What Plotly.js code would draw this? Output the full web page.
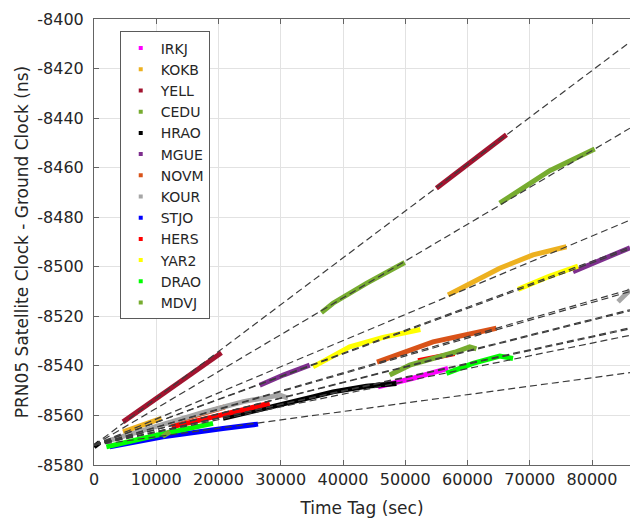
<!DOCTYPE html>
<html>
<head>
<meta charset="utf-8">
<script src="https://cdn.plot.ly/plotly-3.0.1.min.js"></script>
<style>html,body{margin:0;padding:0;background:#fff;}#chart{width:630px;height:518px;}</style>
</head>
<body>
<div id="chart"></div>
<script>
// Stations (legend order) and colours
const stations = ['IRKJ','KOKB','YELL','CEDU','HRAO','MGUE','NOVM','KOUR','STJO','HERS','YAR2','DRAO','MDVJ'];
const colors = ['#FF00FF','#EDB120','#A2142F','#77AC30','#000000','#7E2F8E','#D95319','#A6A6A6','#0000FF','#FF0000','#FFFF00','#00FF00','#77AC30'];

// Observed segments (time tag in s, clock difference in ns); null separates passes
const irkjX = [45620, 51250, 56870];
const irkjY = [-8548.4, -8545.0, -8541.0];
const kokbX = [4660, 7800, 10830, null, 56870, 65170, 70520, 75890];
const kokbY = [-8566.6, -8563.8, -8561.2, null, -8511.4, -8500.6, -8495.2, -8491.9];
const yellX = [4660, 12690, 20470, null, 55000, 59820, 66250];
const yellY = [-8562.6, -8548.7, -8534.7, null, -8468.3, -8458.9, -8446.7];
const ceduX = [36530, 38390, 43760, 49910, null, 65170, 73200, 80430];
const ceduY = [-8518.5, -8514.7, -8506.7, -8498.3, null, -8474.3, -8461.2, -8452.5];
const hraoX = [0, 900, null, 20720, 27690, 34650, 38390, 43760, 48580];
const hraoY = [-8572.7, -8570.9, null, -8561.2, -8557.2, -8552.8, -8550.5, -8548.2, -8547.1];
const mgueX = [26620, 30500, 34650, null, 76950, 81500, 86100];
const mgueY = [-8547.8, -8543.6, -8539.7, null, -8502.0, -8497.0, -8492.3];
const novmX = [12000, 16500, 21000, null, 45460, 54460, 64640];
const novmY = [-8563.2, -8559.9, -8556.6, null, -8538.5, -8530.3, -8524.8];
const kourX = [1730, 9220, 17250, 24000, 29830, 31170, null, 84180, 86100];
const kourY = [-8570.7, -8564.8, -8559.0, -8554.4, -8551.8, -8553.0, null, -8514.1, -8509.4];
const stjoX = [2520, 11080, 20720, 26350];
const stjoY = [-8572.7, -8568.6, -8565.3, -8563.5];
const hersX = [12500, 20720, 28220, null, 52050, 57930];
const hersY = [-8564.6, -8559.9, -8555.1, null, -8537.9, -8535.0];
const yar2X = [35180, 41080, 46430, 52430, null, 68110, 73000, 77750];
const yar2Y = [-8540.4, -8532.3, -8528.5, -8525.3, null, -8509.1, -8504.0, -8499.7];
const draoX = [1990, 10020, 19120, null, 56610, 60880, 65170, 67310];
const draoY = [-8572.7, -8568.0, -8563.2, null, -8543.0, -8539.0, -8536.0, -8537.0];
const mdvjX = [11000, 12200, null, 47500, 50710, 57940, 60350, 61430];
const mdvjY = [-8568.5, -8566.5, null, -8543.7, -8539.7, -8534.5, -8532.3, -8533.1];

const segX = [irkjX, kokbX, yellX, ceduX, hraoX, mgueX, novmX, kourX, stjoX, hersX, yar2X, draoX, mdvjX];
const segY = [irkjY, kokbY, yellY, ceduY, hraoY, mgueY, novmY, kourY, stjoY, hersY, yar2Y, draoY, mdvjY];

// Linear fit per station (ns per s, ns at t=0)
const fitSlope = [0.000545, 0.001055, 0.00189, 0.001486, 0.000515, 0.000928, 0.00073, 0.00072, 0.00034, 0.00063, 0.00092, 0.00055, 0.000635];
const fitIntercept = [-8572, -8572, -8572, -8572, -8572, -8572, -8572, -8572, -8572, -8572, -8572, -8572, -8572];

// Axes
const xRange = [0, 86100];
const yRange = [-8580, -8400];
const xTickVals = [0, 10000, 20000, 30000, 40000, 50000, 60000, 70000, 80000];
const yTickVals = [-8580, -8560, -8540, -8520, -8500, -8480, -8460, -8440, -8420, -8400];

const FONT = 'DejaVu Sans, sans-serif';
const TXT = 'rgb(38,38,38)';

const traces = [];
// data segments
stations.forEach((s, i) => {
  traces.push({x: segX[i], y: segY[i], type: 'scatter', mode: 'lines', name: s,
    line: {color: colors[i], width: 5}, showlegend: false, connectgaps: false, hoverinfo: 'skip'});
});
// fitted dashed lines
stations.forEach((s, i) => {
  traces.push({x: xRange.slice(), y: xRange.map(t => fitIntercept[i] + fitSlope[i] * t),
    type: 'scatter', mode: 'lines', showlegend: false, hoverinfo: 'skip',
    line: {color: 'rgb(60,60,60)', width: 1.2, dash: '7px,4px'}});
});
// legend entries (dot markers)
stations.forEach((s, i) => {
  traces.push({x: [null], y: [null], type: 'scatter', mode: 'markers', name: s,
    marker: {color: colors[i], size: 4, symbol: 'square'}, showlegend: true});
});

const layout = {
  width: 630, height: 518,
  margin: {l: 94, r: 0, t: 19, b: 53, autoexpand: false},
  paper_bgcolor: '#fff', plot_bgcolor: '#fff',
  font: {family: FONT, size: 16, color: TXT},
  showlegend: true,
  legend: {x: 0.048, y: 0.972, xanchor: 'left', yanchor: 'top',
    bordercolor: 'rgb(90,90,90)', borderwidth: 1, bgcolor: '#fff',
    font: {family: FONT, size: 14, color: TXT}, tracegroupgap: 0},
  xaxis: {range: xRange, tickvals: xTickVals, ticktext: xTickVals.map(v => String(v)),
    showgrid: true, gridcolor: 'rgb(226,226,226)', gridwidth: 1, zeroline: false,
    showline: true, linecolor: 'rgb(100,100,100)', linewidth: 1, mirror: 'ticks',
    ticks: 'inside', ticklen: 5, tickcolor: 'rgb(100,100,100)', automargin: true,
    tickfont: {family: FONT, size: 16, color: TXT},
    title: {text: 'Time Tag (sec)', font: {family: FONT, size: 17, color: TXT}, standoff: 14}},
  yaxis: {range: yRange, tickvals: yTickVals, ticktext: yTickVals.map(v => String(v)),
    showgrid: true, gridcolor: 'rgb(226,226,226)', gridwidth: 1, zeroline: false,
    showline: true, linecolor: 'rgb(100,100,100)', linewidth: 1, mirror: false,
    ticks: 'inside', ticklen: 5, tickcolor: 'rgb(100,100,100)', ticklabelstandoff: 6, automargin: true,
    tickfont: {family: FONT, size: 16, color: TXT},
    title: {text: 'PRN05 Satellite Clock - Ground Clock (ns)', font: {family: FONT, size: 17, color: TXT}, standoff: 4}}
};

Plotly.newPlot('chart', traces, layout, {displayModeBar: false, staticPlot: true});
</script>
</body>
</html>
